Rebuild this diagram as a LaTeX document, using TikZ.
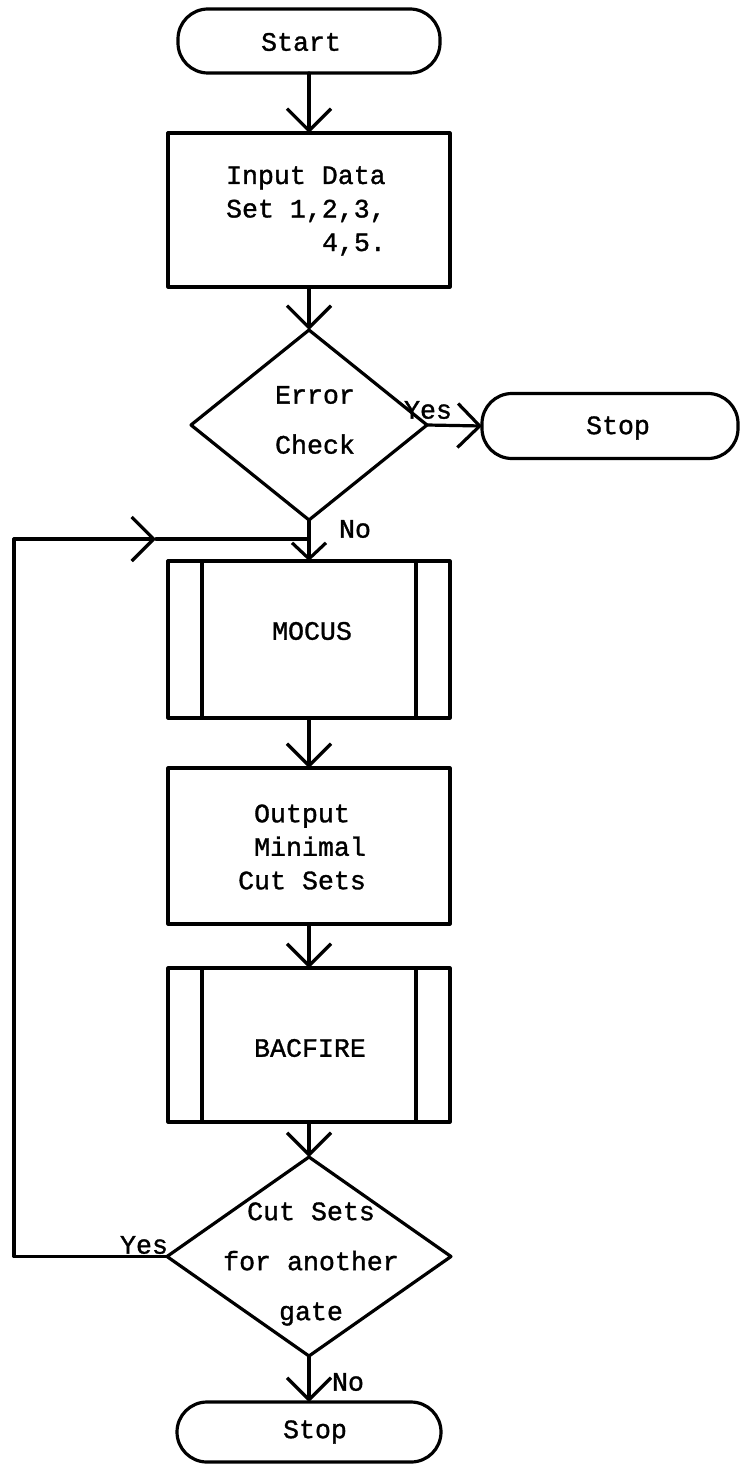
\documentclass[tikz,border=0pt]{standalone}
\usepackage{fontspec}
\newfontfamily\tw[FakeBold=1.2]{Liberation Mono}
\usetikzlibrary{shapes.geometric,arrows.meta}
\begin{document}
\begin{tikzpicture}[x=0.5pt,y=-0.5pt,
  every node/.style={inner sep=0pt, outer sep=0pt},
  ln/.style={line width=1.6pt, line join=round, line cap=round},
  term/.style={draw, ln, rounded corners=15pt, minimum width=131pt, minimum height=32pt},
  procbox/.style={draw, ln, minimum width=141pt, minimum height=77pt},
  decis/.style={draw, ln, diamond},
  txt/.style={font=\tw\fontsize{13.3}{16.75}\selectfont, align=center},
  dtxt/.style={font=\tw\fontsize{13.3}{25}\selectfont, align=center},
  lbl/.style={font=\tw\fontsize{13.3}{16}\selectfont},
  arr/.style={ln, -{Straight Barb[length=11pt,width=22pt]}},
  sarr/.style={ln, -{Straight Barb[length=8pt,width=17pt]}}
]
\useasboundingbox (0,0) rectangle (741,1466);

% shapes
\node[term] (start) at (309,41) {};
\node[txt] (startt) at (301,42) {Start};

\node[procbox] (input) at (309,210) {};
\node[txt, align=left] (inputt) at (306,211) {Input Data\\Set 1,2,3,\\\hspace*{48pt}4,5.};

\node[decis, minimum width=118pt, minimum height=95pt] (err) at (309,425) {};
\node[dtxt] (errt) at (315,420) {Error\\Check};

\node[term, minimum width=128pt, minimum height=32.5pt] (stop1) at (610,426) {};
\node[txt] (stop1t) at (618,428) {Stop};

\node[procbox, minimum height=78.5pt] (mocus) at (309,639.5) {};
\draw[ln] ([xshift=17pt]mocus.north west) -- ([xshift=17pt]mocus.south west);
\draw[ln] ([xshift=-17pt]mocus.north east) -- ([xshift=-17pt]mocus.south east);
\node[txt] (mocust) at (312,631) {MOCUS};

\node[procbox, minimum height=78pt] (output) at (309,846) {};
\node[txt, align=left] (outputt) at (302,847) {\phantom{C}Output\\\phantom{C}Minimal\\Cut Sets};

\node[procbox] (bacfire) at (309,1045) {};
\draw[ln] ([xshift=17pt]bacfire.north west) -- ([xshift=17pt]bacfire.south west);
\draw[ln] ([xshift=-17pt]bacfire.north east) -- ([xshift=-17pt]bacfire.south east);
\node[txt] (bacfiret) at (310,1048) {BACFIRE};

\node[decis, minimum width=142pt, minimum height=99.5pt] (dec2) at (309,1256.5) {};
\node[dtxt] (dec2t) at (311,1264) {Cut Sets\\for another\\gate};

\node[term, minimum width=132pt, minimum height=30pt] (stop2) at (309,1432) {};
\node[txt] (stop2t) at (315,1432) {Stop};

% labels
\node[lbl] (yes1) at (428,410) {Yes};
\node[lbl] (no1) at (355,529) {No};
\node[lbl] (yes2) at (144,1245) {Yes};
\node[lbl] (no2) at (348,1382) {No};

% loop coordinates
\coordinate (looptop) at (14,539);
\coordinate (loopmid) at (156,539);
\coordinate (join) at (309,539);

% connectors
\draw[arr] (start.south) -- (input.north);
\draw[arr] (input.south) -- (err.north);
\draw[arr] (err.east) -- (stop1.west);
\draw[sarr] (err.south) -- (mocus.north);
\draw[arr] (mocus.south) -- (output.north);
\draw[arr] (output.south) -- (bacfire.north);
\draw[arr] (bacfire.south) -- (dec2.north);
\draw[arr] (dec2.south) -- (stop2.north);
\draw[arr] (dec2.west) -| (looptop) -- (loopmid);
\draw[ln] (loopmid) -- (join);
\end{tikzpicture}
\end{document}
